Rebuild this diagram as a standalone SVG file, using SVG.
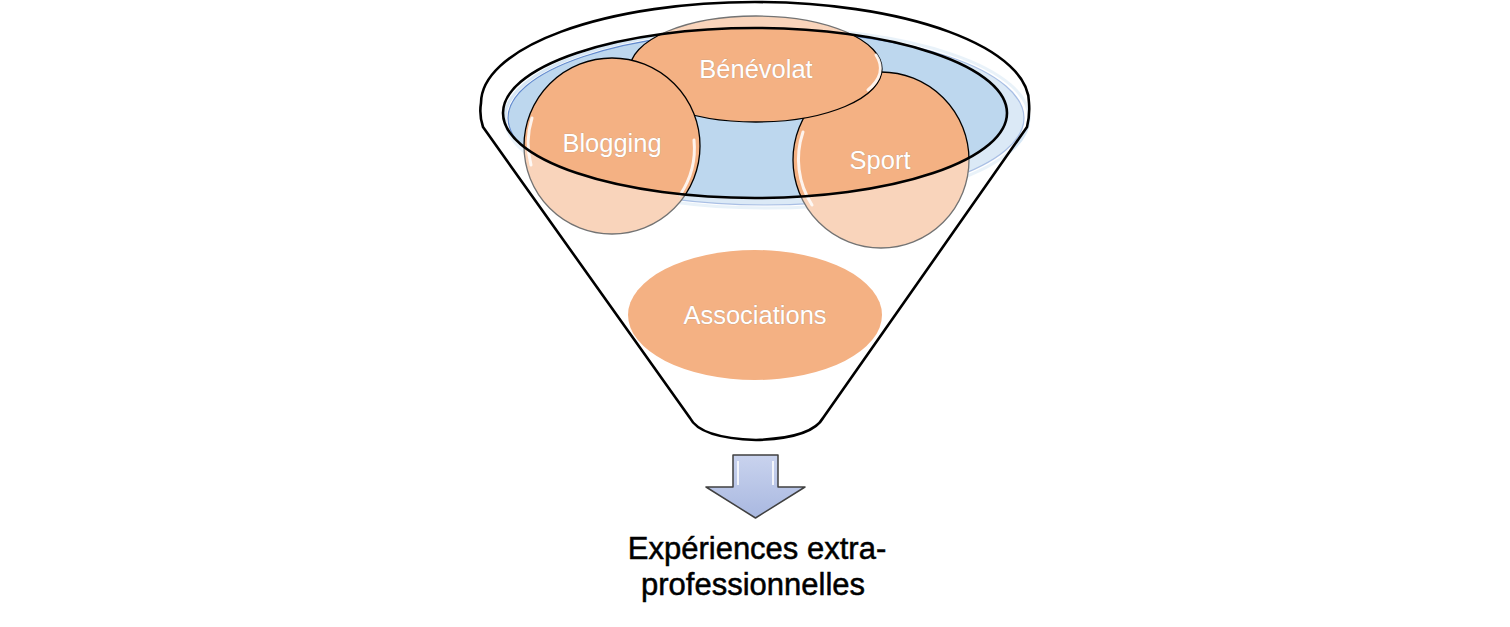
<svg xmlns="http://www.w3.org/2000/svg" width="1510" height="627" viewBox="0 0 1510 627">
<style>
.lbl{font-family:"Liberation Sans",Arial,sans-serif;font-size:25.5px;fill:#ffffff;text-anchor:middle;stroke:#9a8a80;stroke-width:0.6px;stroke-opacity:0.6;paint-order:stroke}
.bub{fill:#F4B183;stroke:#000;stroke-width:1.3}
.hl{fill:none;stroke:#fff;stroke-width:3;stroke-opacity:0.85;stroke-linecap:round}
.cap{font-family:"Liberation Sans",Arial,sans-serif;font-size:31px;fill:#000;stroke:#000;stroke-width:0.5px;text-anchor:middle}
</style>
<defs>
<linearGradient id="ag" x1="0" y1="0" x2="0" y2="1">
<stop offset="0" stop-color="#C9D3EE"/>
<stop offset="1" stop-color="#A9B8E0"/>
</linearGradient>
</defs>
<rect width="1510" height="627" fill="#fff"/>
<g id="funnel-back">
<path d="M483 127 Q479 115 481 103 A274 101 0 0 1 1029 103 Q1030 115 1027 127 L823 418 Q812 438 756 440 Q700 438 690 418 Z" fill="#fff"/>
<ellipse cx="766" cy="118" rx="258" ry="87" fill="#BDD7EE" stroke="#4472C4" stroke-width="1.2" stroke-opacity="0.8"/>
<ellipse cx="767" cy="118" rx="262" ry="90" fill="none" stroke="#BDD7EE" stroke-width="3" stroke-opacity="0.6"/>
</g>
<g id="sport">
<circle class="bub" cx="881" cy="160" r="88"/>
<path class="hl" d="M803 132 A84 84 0 0 0 812 205"/>
<text class="lbl" x="880" y="169">Sport</text>
</g>
<g id="benevolat">
<ellipse class="bub" cx="756" cy="69" rx="126" ry="53"/>
<path class="hl" d="M876 55 A122 50 0 0 1 868 90"/>
<text class="lbl" x="756" y="78">Bénévolat</text>
</g>
<g id="blogging">
<circle class="bub" cx="612" cy="146" r="88"/>
<path class="hl" d="M532 118 A84 84 0 0 0 531 165"/>
<path class="hl" d="M694 140 A84 84 0 0 1 680 195"/>
<text class="lbl" x="612" y="152">Blogging</text>
</g>
<g id="funnel-front">
<path d="M483 127 Q479 115 481 103 A274 101 0 0 1 1029 103 Q1030 115 1027 127 L823 418 Q812 438 756 440 Q700 438 690 418 Z M503 113 A252 85 0 0 0 1007 113 A252 85 0 0 0 503 113 Z" fill="#fff" fill-opacity="0.45" fill-rule="evenodd"/>
</g>
<g id="associations">
<ellipse cx="755" cy="315" rx="127" ry="65" fill="#F4B183"/>
<text class="lbl" x="755" y="324">Associations</text>
</g>
<g id="funnel-rim">
<ellipse cx="755" cy="113" rx="252" ry="85" fill="none" stroke="#000" stroke-width="2.6"/>
<path d="M483 127 Q479 115 481 103 A274 101 0 0 1 1029 103 Q1030 115 1027 127 L823 418 Q812 438 756 440 Q700 438 690 418 Z" fill="none" stroke="#000" stroke-width="2.6" stroke-linejoin="round"/>
</g>
<g id="connectors">
<path d="M733 455 H778 V487 H805 L755.5 518 L706 487 H733 Z" fill="url(#ag)" stroke="#404040" stroke-width="1.5" stroke-linejoin="round"/>
<path d="M738 461 V485 M773 461 V485" stroke="#fff" stroke-width="2" stroke-opacity="0.8"/>
</g>
<g id="result">
<text class="cap" x="757" y="559">Expériences extra-</text>
<text class="cap" x="753" y="595">professionnelles</text>
</g>
</svg>
